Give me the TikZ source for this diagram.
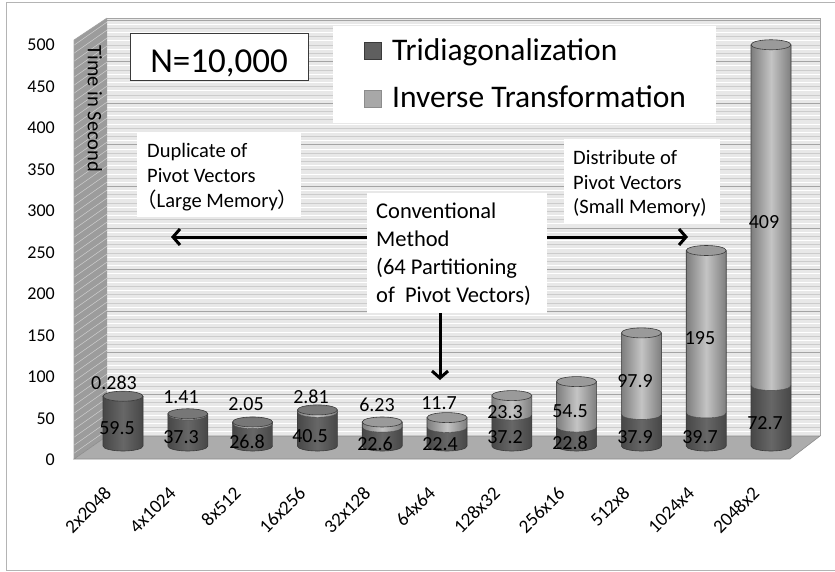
\documentclass[tikz,border=0pt]{standalone}
\usepackage{fontspec}
\setmainfont{Carlito}
\newfontfamily\cjkf{Noto Sans CJK JP}
\usetikzlibrary{arrows.meta}
\definecolor{framec}{HTML}{B4B4B4}
\definecolor{wallc}{HTML}{E8E8E8}
\definecolor{minorc}{HTML}{CCCCCC}
\definecolor{majorc}{HTML}{A4A4A4}
\definecolor{sidec}{HTML}{9C9C9C}
\definecolor{hatchc}{HTML}{CFCFCF}
\definecolor{floorc}{HTML}{ACACAC}
\definecolor{flooredge}{HTML}{8C8C8C}
\definecolor{dkE}{HTML}{474747}
\definecolor{dkM}{HTML}{676767}
\definecolor{topd}{HTML}{777777}
\definecolor{ltE}{HTML}{7E7E7E}
\definecolor{ltM}{HTML}{C4C4C4}
\definecolor{topl}{HTML}{9A9A9A}
\definecolor{outc}{HTML}{3A3A3A}
\definecolor{legd}{HTML}{5F5F5F}
\definecolor{legl}{HTML}{A8A8A8}
\begin{document}
\begin{tikzpicture}[x=1pt,y=-1pt,
  axlab/.style={font=\fontsize{18}{20}\selectfont, anchor=east, inner sep=0pt},
  dlab/.style={font=\fontsize{20}{22}\selectfont, inner sep=0pt},
  xlab/.style={font=\fontsize{19}{21}\selectfont, anchor=east, rotate=45, inner sep=0pt},
  notebox/.style={fill=white, draw=none, anchor=north west, inner sep=0pt},
  ntext/.style={anchor=base west, inner sep=0pt, font=\fontsize{20.5}{25}\selectfont},
  ctext/.style={anchor=base west, inner sep=0pt, font=\fontsize{22.5}{28}\selectfont},
  legtext/.style={anchor=base west, inner sep=0pt, font=\fontsize{31.5}{34}\selectfont},
  legsq/.style={minimum size=17pt, inner sep=0pt, anchor=north west},
  darkbody/.style={left color=dkE, right color=dkE, middle color=dkM},
  lightbody/.style={left color=ltE, right color=ltE, middle color=ltM},
  outl/.style={draw=outc, line width=0.6pt},
  arr/.style={line width=3pt, -{Straight Barb[length=7pt,width=16pt]}},
]
\useasboundingbox (0,0) rectangle (835,571);
% outer frame
\draw[framec, line width=1pt] (836,2) -- (6,2) -- (6,570) -- (836,570);
% back wall
\fill[wallc] (107,18) rectangle (820,436);
\foreach \v in {5,15,...,495} \draw[white, line width=0.8pt] (107,{436-0.832*\v}) -- (820,{436-0.832*\v});
\foreach \v in {10,20,...,490} \draw[minorc, line width=0.7pt] (107,{436-0.832*\v}) -- (820,{436-0.832*\v});
\foreach \v in {50,100,...,500} \draw[majorc, line width=1pt] (107,{436-0.832*\v}) -- (820,{436-0.832*\v});
\draw[majorc, line width=0.8pt] (107,18) -- (820,18) -- (820,436);
% side wall
\begin{scope}
\clip (74,40) -- (107,18) -- (107,436) -- (74,459) -- cycle;
\fill[sidec] (70,0) rectangle (110,470);
\foreach \y in {0,8,...,520} \draw[hatchc, line width=0.5pt] (70,\y) -- (110,\y-28);
\end{scope}
\draw[majorc, line width=0.6pt] (74,459) -- (74,40) -- (107,18);
% floor
\filldraw[fill=floorc, draw=flooredge, line width=0.6pt] (74,459) -- (107,436) -- (820,436) -- (790,459) -- cycle;
% y axis labels
\foreach \v in {0,50,...,500} \node[axlab] (y\v) at (55,{460-0.83*\v}) {\v};
\node[rotate=-90, font=\fontsize{20.5}{22}\selectfont, inner sep=0pt] (ytitle) at (95,109) {Time in Second};
% bars
\foreach \i/\d/\l/\tc in {0/59.5/0.283/topd, 1/37.3/1.41/topd, 2/26.8/2.05/topd, 3/40.5/2.81/topd, 4/22.6/6.23/topl, 5/22.4/11.7/topl, 6/37.2/23.3/topl, 7/22.8/54.5/topl, 8/37.9/97.9/topl, 9/39.7/195/topl, 10/72.7/409/topl} {
  \pgfmathsetmacro\cx{123+64.8*\i}
  \pgfmathsetmacro\yb{446-0.833*\d}
  \pgfmathsetmacro\yc{446-0.833*(\d+\l)}
  \path[darkbody] (\cx-20,\yb) -- (\cx-20,446) arc[start angle=180,end angle=0,x radius=20,y radius=5] -- (\cx+20,\yb) arc[start angle=0,end angle=180,x radius=20,y radius=5] -- cycle;
  \path[lightbody] (\cx-20,\yc) -- (\cx-20,\yb) arc[start angle=180,end angle=0,x radius=20,y radius=5] -- (\cx+20,\yc) arc[start angle=0,end angle=180,x radius=20,y radius=5] -- cycle;
  \draw[outl] (\cx-20,\yc) -- (\cx-20,446) arc[start angle=180,end angle=0,x radius=20,y radius=5] -- (\cx+20,\yc);
  \draw[draw=outc, line width=0.4pt] (\cx-20,\yb) arc[start angle=180,end angle=0,x radius=20,y radius=5];
  \filldraw[fill=\tc, outl] (\cx,\yc) ellipse[x radius=20, y radius=5];
}
% data labels (Tridiagonalization)
\node[dlab] (d1) at (117,428) {59.5};
\node[dlab] (d2) at (181,437) {37.3};
\node[dlab] (d3) at (247,442) {26.8};
\node[dlab] (d4) at (310,436) {40.5};
\node[dlab] (d5) at (375,444) {22.6};
\node[dlab] (d6) at (440,444) {22.4};
\node[dlab] (d7) at (505,437) {37.2};
\node[dlab] (d8) at (570,443) {22.8};
\node[dlab] (d9) at (635,437) {37.9};
\node[dlab] (d10) at (700,437) {39.7};
\node[dlab] (d11) at (765,423) {72.7};
% data labels (Inverse Transformation)
\node[dlab] (i1) at (114,383) {0.283};
\node[dlab] (i2) at (181,397) {1.41};
\node[dlab] (i3) at (246,404) {2.05};
\node[dlab] (i4) at (311,397) {2.81};
\node[dlab] (i5) at (377,405) {6.23};
\node[dlab] (i6) at (439,403) {11.7};
\node[dlab] (i7) at (505,412) {23.3};
\node[dlab] (i8) at (570,411) {54.5};
\node[dlab] (i9) at (635,381) {97.9};
\node[dlab] (i10) at (700,338) {195};
\node[dlab] (i11) at (764,222) {409};
% x labels
\foreach \i/\t in {0/2x2048, 1/4x1024, 2/8x512, 3/16x256, 4/32x128, 5/64x64, 6/128x32, 7/256x16, 8/512x8, 9/1024x4, 10/2048x2} {
  \node[xlab] (x\i) at ({123+64.8*\i-15},490) {\t};
}
% N box
\node[draw=outc, line width=0.8pt, fill=white, minimum width=178pt, minimum height=47pt, inner sep=0pt, anchor=north west] (nbox) at (130,33) {};
\node[anchor=base, inner sep=0pt, font=\fontsize{35}{38}\selectfont] (ntitle) at (219,72) {N=10,000};
% legend
\node[notebox, minimum width=383pt, minimum height=97pt] (legend) at (333,26) {};
\node[legsq, fill=legd, draw=outc, line width=0.5pt] (sq1) at (364,42) {};
\node[legsq, fill=legl, draw=flooredge, line width=0.5pt] (sq2) at (364,90) {};
\node[legtext] (lt1) at (392,60) {Tridiagonalization};
\node[legtext] (lt2) at (392,107) {Inverse Transformation};
% Duplicate box
\node[notebox, minimum width=164pt, minimum height=85pt] (dup) at (137,132) {};
\node[ntext] (dup1) at (147,157) {Duplicate of};
\node[ntext] (dup2) at (147,182) {Pivot Vectors};
\node[ntext] (dup3) at (136,207) {{\cjkf （}Large Memory{\cjkf ）}};
% Distribute box
\node[notebox, minimum width=156pt, minimum height=84pt] (dis) at (564,139) {};
\node[ntext] (dis1) at (573,164) {Distribute of};
\node[ntext] (dis2) at (573,189) {Pivot Vectors};
\node[ntext] (dis3) at (573,213) {(Small Memory)};
% Conventional box
\node[notebox, minimum width=180pt, minimum height=120pt] (conv) at (367,193) {};
\node[ctext] (c1) at (376,218) {Conventional};
\node[ctext] (c2) at (376,246) {Method};
\node[ctext] (c3) at (376,274) {(64 Partitioning};
\node[ctext] (c4) at (376,302) {of\ \ Pivot Vectors)};
% arrows
\coordinate (tipL) at (171,237);
\coordinate (tipR) at (688,237);
\coordinate (tipD) at (440,380);
\draw[arr] (conv.west |- tipL) -- (tipL);
\draw[arr] (conv.east |- tipR) -- (tipR);
\draw[arr] (tipD |- conv.south) -- (tipD);
\end{tikzpicture}
\end{document}
